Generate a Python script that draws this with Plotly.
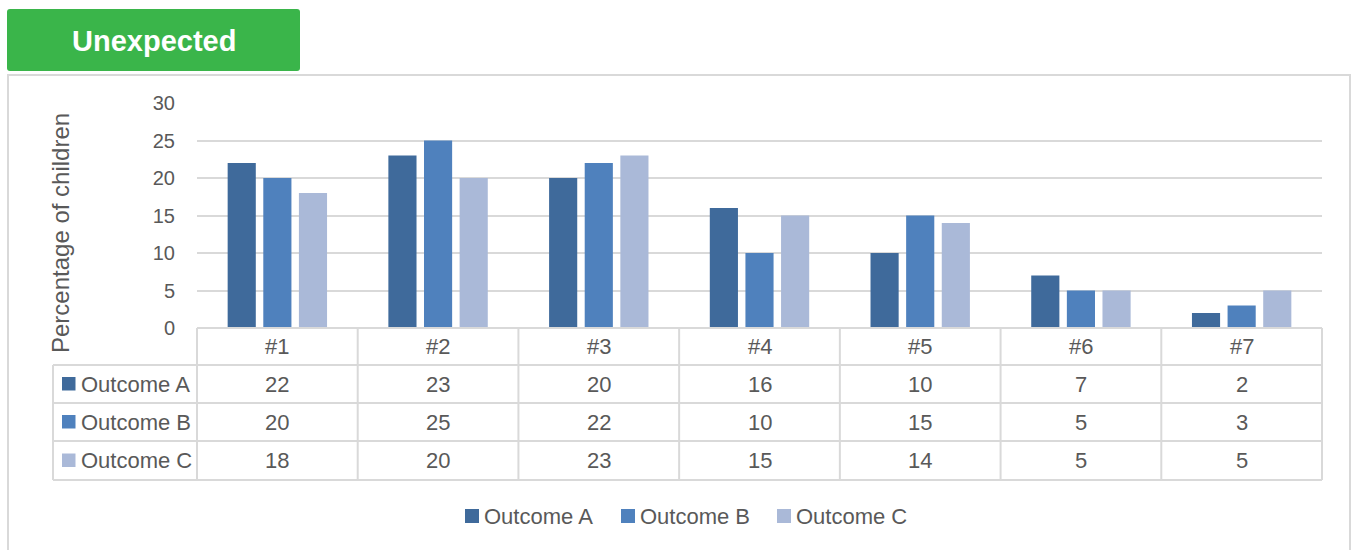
import plotly.graph_objects as go

# Categories and series values (percentage of children)
categories = ["#1", "#2", "#3", "#4", "#5", "#6", "#7"]
series_names = ["Outcome A", "Outcome B", "Outcome C"]
outcome_a = [22, 23, 20, 16, 10, 7, 2]
outcome_b = [20, 25, 22, 10, 15, 5, 3]
outcome_c = [18, 20, 23, 15, 14, 5, 5]
y_ticks = [0, 5, 10, 15, 20, 25, 30]

colors = ["#3F6A9B", "#4F81BD", "#AAB9D8"]
series_values = [outcome_a, outcome_b, outcome_c]

W, H = 1353, 550
PL, PR, PT, PB = 197, 1322, 103, 328   # plot area in pixels
grid = "#D9D9D9"
txt = "#595959"
FONT = "Liberation Sans, Arial, sans-serif"


def px(x):
    return (x - PL) / (PR - PL)


def py(y):
    return (PB - y) / (PB - PT)


fig = go.Figure()
for name, vals, col in zip(series_names, series_values, colors):
    fig.add_trace(go.Bar(x=categories, y=vals, name=name, marker_color=col,
                         marker_line_width=0, showlegend=False))

shapes = []
annotations = []

# Outer frame
shapes.append(dict(type="rect", xref="paper", yref="paper",
                   x0=px(8), x1=px(1350), y0=py(75), y1=py(560),
                   line=dict(color=grid, width=2), fillcolor="rgba(0,0,0,0)", layer="below"))

# Header badge with slightly rounded corners
bx0, bx1, by0, by1, rr = 7, 300, 9, 71, 3
badge_path = (
    f"M {px(bx0 + rr)},{py(by0)} L {px(bx1 - rr)},{py(by0)} "
    f"Q {px(bx1)},{py(by0)} {px(bx1)},{py(by0 + rr)} "
    f"L {px(bx1)},{py(by1 - rr)} Q {px(bx1)},{py(by1)} {px(bx1 - rr)},{py(by1)} "
    f"L {px(bx0 + rr)},{py(by1)} Q {px(bx0)},{py(by1)} {px(bx0)},{py(by1 - rr)} "
    f"L {px(bx0)},{py(by0 + rr)} Q {px(bx0)},{py(by0)} {px(bx0 + rr)},{py(by0)} Z"
)
shapes.append(dict(type="path", xref="paper", yref="paper", path=badge_path,
                   line=dict(color="#3AB54A", width=0), fillcolor="#3AB54A"))
annotations.append(dict(xref="paper", yref="paper", x=px(154), y=py(41),
                        text="<b>Unexpected</b>", showarrow=False,
                        font=dict(family=FONT, size=29, color="white"),
                        xanchor="center", yanchor="middle"))

# Data table beneath the axis
row_lines = [328, 365, 403, 441, 480]
col_lines = [PL + i * (PR - PL) / len(categories) for i in range(len(categories) + 1)]
line_style = dict(color=grid, width=2)
shapes.append(dict(type="line", xref="paper", yref="paper",
                   x0=px(PL), x1=px(PR), y0=py(row_lines[0]), y1=py(row_lines[0]), line=line_style))
for r in row_lines[1:]:
    shapes.append(dict(type="line", xref="paper", yref="paper",
                       x0=px(53), x1=px(PR), y0=py(r), y1=py(r), line=line_style))
for c in col_lines:
    shapes.append(dict(type="line", xref="paper", yref="paper",
                       x0=px(c), x1=px(c), y0=py(row_lines[0]), y1=py(row_lines[-1]), line=line_style))
shapes.append(dict(type="line", xref="paper", yref="paper",
                   x0=px(53), x1=px(53), y0=py(row_lines[1]), y1=py(row_lines[-1]), line=line_style))

cell_font = dict(family=FONT, size=22, color=txt)
header_y = (row_lines[0] + row_lines[1]) / 2
for cat in categories:
    annotations.append(dict(xref="x", yref="paper", x=cat, y=py(header_y), text=cat,
                            showarrow=False, font=cell_font, xanchor="center", yanchor="middle"))
for i, (name, vals, col) in enumerate(zip(series_names, series_values, colors)):
    yc = (row_lines[i + 1] + row_lines[i + 2]) / 2
    shapes.append(dict(type="rect", xref="paper", yref="paper",
                       x0=px(62), x1=px(75.5), y0=py(yc - 7), y1=py(yc + 6.5),
                       line=dict(width=0), fillcolor=col))
    annotations.append(dict(xref="paper", yref="paper", x=px(79), y=py(yc), text=name,
                            showarrow=False, font=cell_font, xanchor="left", yanchor="middle"))
    for cat, v in zip(categories, vals):
        annotations.append(dict(xref="x", yref="paper", x=cat, y=py(yc), text=str(v),
                                showarrow=False, font=cell_font, xanchor="center", yanchor="middle"))

# Legend row at the bottom
legend_y = 516
legend_x = [465, 621, 777]
for name, col, lx in zip(series_names, colors, legend_x):
    shapes.append(dict(type="rect", xref="paper", yref="paper",
                       x0=px(lx), x1=px(lx + 14), y0=py(legend_y - 7), y1=py(legend_y + 7),
                       line=dict(width=0), fillcolor=col))
    annotations.append(dict(xref="paper", yref="paper", x=px(lx + 17), y=py(legend_y), text=name,
                            showarrow=False, font=cell_font, xanchor="left", yanchor="middle"))

# Axis title
annotations.append(dict(xref="paper", yref="paper", x=px(60), y=py(233),
                        text="Percentage of children", textangle=-90, showarrow=False,
                        font=dict(family=FONT, size=24, color=txt),
                        xanchor="center", yanchor="middle"))

fig.update_layout(
    width=W, height=H,
    margin=dict(l=PL, r=W - PR, t=PT, b=H - PB, pad=0),
    paper_bgcolor="white", plot_bgcolor="white",
    barmode="group", bargap=0.335, bargroupgap=0.21,
    shapes=shapes, annotations=annotations,
    xaxis=dict(showticklabels=False, showgrid=False, showline=False, zeroline=False,
               ticks=""),
    yaxis=dict(range=[0, 30], tickvals=y_ticks, showgrid=True, gridcolor=grid, gridwidth=2,
               zeroline=False, showline=False, ticks="", ticklabelstandoff=21,
               tickfont=dict(family=FONT, size=20, color=txt)),
    font=dict(family=FONT, color=txt),
)

fig.write_html("out.html")
